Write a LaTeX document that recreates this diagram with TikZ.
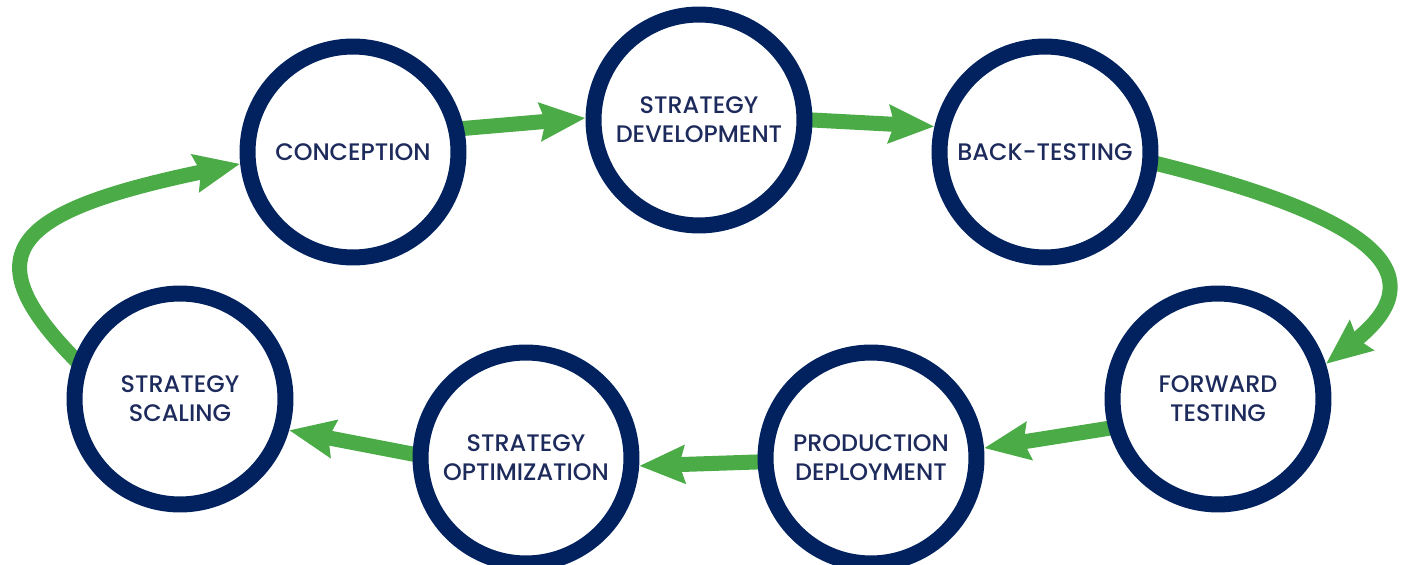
\documentclass[tikz,border=0pt]{standalone}
\usepackage{fontspec}
\setmainfont{Poppins Medium}
\usepackage{xcolor}
\usetikzlibrary{arrows.meta,backgrounds}
\definecolor{ringblue}{HTML}{02225F}
\definecolor{labelblue}{HTML}{1D2A5C}
\definecolor{flowgreen}{HTML}{4AAB47}

\begin{document}
\begin{tikzpicture}[x=0.02cm, y=0.02cm,
    stage/.style={circle, draw=ringblue, line width=0.32cm, minimum size=4.22cm,
      inner sep=0pt, align=center, text=labelblue,
      font=\fontsize{13.6}{16.5}\selectfont},
    flow/.style={draw=flowgreen, line width=0.3cm, shorten <=-0.12cm,
      -{Stealth[length=0.9cm, width=0.74cm, inset=0.1cm]}}]
  \useasboundingbox (0,0) rectangle (1401,565);
  % the seven stages, top row then bottom row
  \node[stage] (con) at (353,413) {CONCEPTION};
  \node[stage] (dev) at (699,445) {STRATEGY\\DEVELOPMENT};
  \node[stage] (bt)  at (1045,413) {BACK-TESTING};
  \node[stage] (ft)  at (1218,166) {FORWARD\\TESTING};
  \node[stage] (pd)  at (871,107) {PRODUCTION\\DEPLOYMENT};
  \node[stage] (opt) at (526,107) {STRATEGY\\OPTIMIZATION};
  \node[stage] (sca) at (180,166) {STRATEGY\\SCALING};
  \begin{scope}[on background layer]
    \draw[flow] (con.12) -- (dev.179);
    \draw[flow] (dev.0) -- (bt.167);
    \draw[flow] (bt.354) .. controls (1383,346) and (1435,288) .. (ft.18);
    \draw[flow] (ft.195) -- (pd.5);
    \draw[flow] (pd.182) -- (opt.356);
    \draw[flow] (opt.178) -- (sca.344);
    \draw[flow] (sca.159) .. controls (-32,313) and (15,354) .. (con.186);
  \end{scope}
\end{tikzpicture}
\end{document}
